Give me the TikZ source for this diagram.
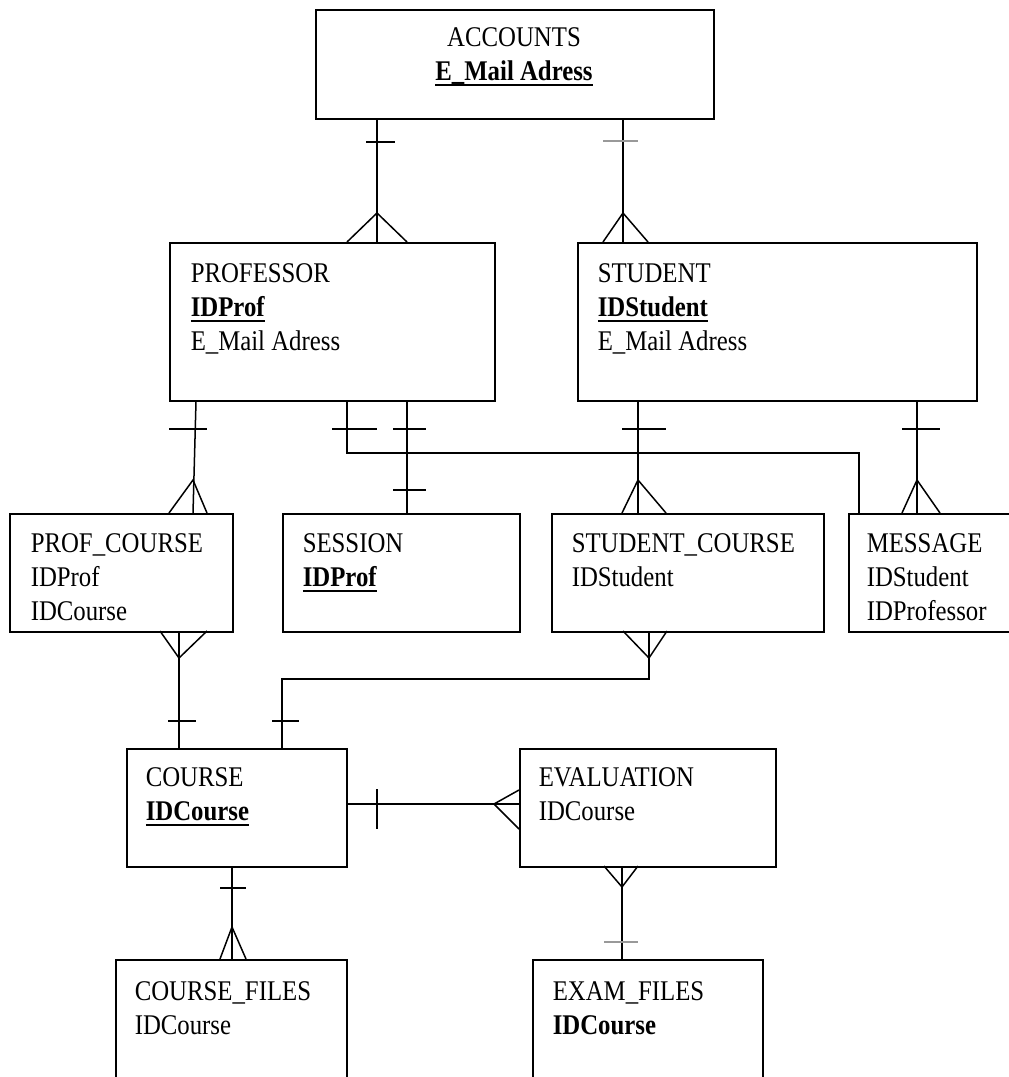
\documentclass[tikz,border=0pt]{standalone}
\usepackage{fontspec}
\setmainfont{Liberation Serif}[FakeStretch=0.87]
\usetikzlibrary{calc}
% key attribute: text with a heavy rule under it
\newcommand\keyline[1]{\setbox0\hbox{#1}\rlap{\rule[-6pt]{\wd0}{1.8pt}}\box0}
% attribute lists; the baseline is that of the first row
\newcommand\fieldrows[1]{\begin{tabular}[t]{@{}l@{}}#1\end{tabular}}
\newcommand\fieldrowsc[1]{\begin{tabular}[t]{@{}c@{}}#1\end{tabular}}
\tikzset{
  ebox/.style={draw, rectangle, inner sep=0pt, anchor=north west},
  etext/.style={inner sep=0pt, anchor=base west, font=\fontsize{28.5}{34}\selectfont},
  faint/.style={color=black!40},
  pics/tick/.style args={#1/#2}{code={\draw (#1,0) -- (#2,0);}},
  pics/vtick/.style args={#1/#2}{code={\draw (0,#1) -- (0,#2);}},
  pics/crow/.style args={#1/#2/#3}{code={\draw (#1,#3) -- (0,0) -- (#2,#3);}},
  pics/crowh/.style args={#1/#2/#3}{code={\draw (#3,#1) -- (0,0) -- (#3,#2);}},
}
\begin{document}
\begin{tikzpicture}[x=1pt, y=-1pt, line width=1.5pt]
\useasboundingbox (0,0) rectangle (1009,1077);
\clip (0,0) rectangle (1009,1077);

% entity boxes
\node[ebox, minimum width=398pt, minimum height=109pt] (acc)    at (315,9)   {};
\node[ebox, minimum width=325pt, minimum height=158pt] (prof)   at (169,242) {};
\node[ebox, minimum width=399pt, minimum height=158pt] (stud)   at (577,242) {};
\node[ebox, minimum width=223pt, minimum height=118pt] (pc)     at (9,513)   {};
\node[ebox, minimum width=237pt, minimum height=118pt] (sess)   at (282,513) {};
\node[ebox, minimum width=272pt, minimum height=118pt] (sc)     at (551,513) {};
\node[ebox, minimum width=175pt, minimum height=118pt] (msg)    at (848,513) {};
\node[ebox, minimum width=220pt, minimum height=118pt] (course) at (126,748) {};
\node[ebox, minimum width=256pt, minimum height=118pt] (eval)   at (519,748) {};
\node[ebox, minimum width=231pt, minimum height=140pt] (cf)     at (115,959) {};
\node[ebox, minimum width=230pt, minimum height=140pt] (ef)     at (532,959) {};

% entity texts
\node[etext, anchor=base] (acc-t) at (514,46)
  {\fieldrowsc{ACCOUNTS\\ \textbf{\keyline{E\_Mail Adress}}}};
\node[etext] (prof-t) at (190,282)
  {\fieldrows{PROFESSOR\\ \textbf{\keyline{IDProf}}\\ E\_Mail Adress}};
\node[etext] (stud-t) at (597,282)
  {\fieldrows{STUDENT\\ \textbf{\keyline{IDStudent}}\\ E\_Mail Adress}};
\node[etext] (pc-t) at (30,552)
  {\fieldrows{PROF\_COURSE\\ IDProf\\ IDCourse}};
\node[etext] (sess-t) at (302,552)
  {\fieldrows{SESSION\\ \textbf{\keyline{IDProf}}}};
\node[etext] (sc-t) at (571,552)
  {\fieldrows{STUDENT\_COURSE\\ IDStudent}};
\node[etext] (msg-t) at (866,552)
  {\fieldrows{MESSAGE\\ IDStudent\\ IDProfessor}};
\node[etext] (course-t) at (145,786)
  {\fieldrows{COURSE\\ \textbf{\keyline{IDCourse}}}};
\node[etext] (eval-t) at (538,786)
  {\fieldrows{EVALUATION\\ IDCourse}};
\node[etext] (cf-t) at (134,1000)
  {\fieldrows{COURSE\_FILES\\ IDCourse}};
\node[etext] (ef-t) at (552,1000)
  {\fieldrows{EXAM\_FILES\\ \textbf{IDCourse}}};

% connector columns and rows
\coordinate (xAP) at (377,0);
\coordinate (xAS) at (623,0);
\coordinate (xPPa) at (196,0);
\coordinate (xPPb) at (193,0);
\coordinate (xPM) at (347,0);
\coordinate (xPS) at (407,0);
\coordinate (xSC) at (638,0);
\coordinate (xSM) at (917,0);
\coordinate (xMin) at (859,0);
\coordinate (xPC) at (179,0);
\coordinate (xSCo) at (649,0);
\coordinate (xCin) at (282,0);
\coordinate (xCF) at (232,0);
\coordinate (xEF) at (622,0);
\coordinate (yPM) at (0,453);
\coordinate (ySC) at (0,679);
\coordinate (yCE) at (0,804);

% relationship lines
\draw (acc.south -| xAP) -- (prof.north -| xAP);
\draw (acc.south -| xAS) -- (stud.north -| xAS);
\draw (prof.south -| xPPa) -- (pc.north -| xPPb);
\draw (prof.south -| xPM) -- (xPM |- yPM) -| (msg.north -| xMin);
\draw (prof.south -| xPS) -- (sess.north -| xPS);
\draw (stud.south -| xSC) -- (sc.north -| xSC);
\draw (stud.south -| xSM) -- (msg.north -| xSM);
\draw (pc.south -| xPC) -- (course.north -| xPC);
\draw (sc.south -| xSCo) -- (xSCo |- ySC) -| (course.north -| xCin);
\draw (course.east |- yCE) -- (eval.west |- yCE);
\draw (course.south -| xCF) -- (cf.north -| xCF);
\draw (eval.south -| xEF) -- (ef.north -| xEF);

% cardinality marks
\pic at (377,142) {tick=-11/18};
\pic at (377,213) {crow=-30/30/29};
\pic[faint] at (623,141) {tick=-20/15};
\pic at (623,213) {crow=-20/25/29};

\pic at (195,429) {tick=-26/12};
\pic at (193,480) {crow=-24/14/33};
\pic at (347,429) {tick=-15/30};
\pic at (407,429) {tick=-14/19};
\pic at (407,490) {tick=-14/19};
\pic at (638,429) {tick=-16/28};
\pic at (638,480) {crow=-16/28/33};
\pic at (917,429) {tick=-15/23};
\pic at (917,480) {crow=-15/23/33};

\pic at (179,658) {crow=-19/28/-27};
\pic at (179,721) {tick=-11/17};
\pic at (649,658) {crow=-26/18/-27};
\pic at (282,721) {tick=-10/17};

\pic at (377,804) {vtick=-15/25};
\pic at (494,804) {crowh=-14/25/25};

\pic at (232,888) {tick=-12/14};
\pic at (232,927) {crow=-12/14/32};
\pic at (622,887) {crow=-18/16/-21};
\pic[faint] at (622,942) {tick=-18/16};
\end{tikzpicture}
\end{document}
